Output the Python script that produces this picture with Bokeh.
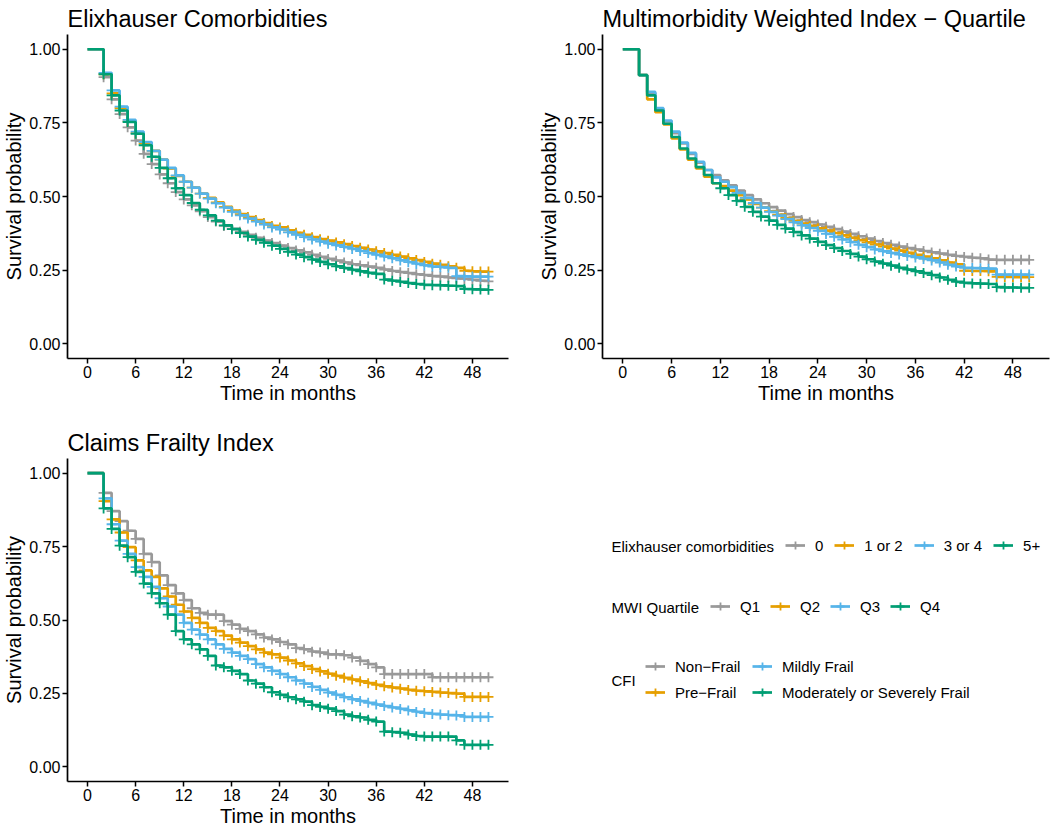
from bokeh.plotting import figure
from bokeh.layouts import column, row
from bokeh.models import Range1d, FixedTicker, NumeralTickFormatter, Legend, LegendItem, Label
from bokeh.embed import file_html
from bokeh.resources import INLINE

FONT = "Liberation Sans"

months = list(range(0, 51))
x_ticks = [0, 6, 12, 18, 24, 30, 36, 42, 48]
y_ticks = [0.0, 0.25, 0.5, 0.75, 1.0]
colors = ["#999999", "#E69F00", "#56B4E9", "#009E73"]

# ---------------- Elixhauser comorbidities ----------------
elix_labels = ["0", "1 or 2", "3 or 4", "5+"]
elix_0 = [1.0, 1.0, 0.905, 0.83, 0.78, 0.735, 0.69, 0.645, 0.61, 0.575,
          0.545, 0.515, 0.49, 0.47, 0.45, 0.43, 0.415, 0.40, 0.39, 0.38,
          0.37, 0.36, 0.35, 0.342, 0.333, 0.325, 0.317, 0.31, 0.302, 0.295,
          0.288, 0.282, 0.276, 0.27, 0.266, 0.262, 0.258, 0.252, 0.247, 0.243,
          0.24, 0.236, 0.233, 0.23, 0.228, 0.225, 0.222, 0.22, 0.217, 0.214,
          0.212]
elix_1_2 = [1.0, 1.0, 0.915, 0.85, 0.80, 0.755, 0.715, 0.68, 0.655, 0.625,
            0.595, 0.57, 0.55, 0.53, 0.51, 0.495, 0.48, 0.465, 0.452, 0.44,
            0.43, 0.42, 0.41, 0.40, 0.395, 0.385, 0.377, 0.37, 0.362, 0.355,
            0.35, 0.344, 0.338, 0.332, 0.326, 0.32, 0.314, 0.308, 0.302, 0.296,
            0.29, 0.284, 0.278, 0.272, 0.268, 0.263, 0.258, 0.248, 0.246, 0.245,
            0.245]
elix_3_4 = [1.0, 1.0, 0.92, 0.86, 0.805, 0.76, 0.72, 0.685, 0.655, 0.625,
            0.597, 0.572, 0.55, 0.53, 0.51, 0.493, 0.477, 0.462, 0.448, 0.436,
            0.425, 0.415, 0.405, 0.395, 0.388, 0.378, 0.37, 0.362, 0.354, 0.347,
            0.34, 0.334, 0.328, 0.322, 0.315, 0.308, 0.302, 0.296, 0.29, 0.283,
            0.277, 0.271, 0.266, 0.262, 0.26, 0.258, 0.23, 0.229, 0.228, 0.228,
            0.228]
elix_5p = [1.0, 1.0, 0.915, 0.843, 0.792, 0.753, 0.713, 0.674, 0.635, 0.597,
           0.562, 0.528, 0.505, 0.478, 0.455, 0.436, 0.418, 0.402, 0.389, 0.376,
           0.364, 0.353, 0.343, 0.333, 0.322, 0.312, 0.303, 0.294, 0.286, 0.278,
           0.27, 0.263, 0.257, 0.251, 0.246, 0.241, 0.237, 0.218, 0.214, 0.21,
           0.206, 0.203, 0.2, 0.199, 0.198, 0.197, 0.196, 0.186, 0.185, 0.184,
           0.183]
elix_censor_start = [2, 2, 2, 2]

# ---------------- MWI quartile ----------------
mwi_labels = ["Q1", "Q2", "Q3", "Q4"]
mwi_q1 = [1.0, 1.0, 0.912, 0.85, 0.795, 0.755, 0.715, 0.68, 0.645, 0.615,
          0.59, 0.573, 0.555, 0.538, 0.52, 0.505, 0.49, 0.477, 0.464, 0.452,
          0.44, 0.43, 0.42, 0.413, 0.405, 0.397, 0.389, 0.381, 0.373, 0.365,
          0.357, 0.349, 0.342, 0.336, 0.33, 0.325, 0.32, 0.315, 0.31, 0.306,
          0.302, 0.298, 0.295, 0.292, 0.29, 0.286, 0.285, 0.285, 0.285, 0.285,
          0.285]
mwi_q2 = [1.0, 1.0, 0.912, 0.83, 0.786, 0.745, 0.697, 0.66, 0.625, 0.595,
          0.567, 0.545, 0.535, 0.52, 0.505, 0.49, 0.475, 0.462, 0.45, 0.438,
          0.427, 0.417, 0.408, 0.4, 0.392, 0.384, 0.376, 0.368, 0.36, 0.352,
          0.344, 0.337, 0.33, 0.323, 0.316, 0.309, 0.302, 0.296, 0.29, 0.283,
          0.276, 0.27, 0.248, 0.247, 0.247, 0.246, 0.227, 0.227, 0.226, 0.226,
          0.226]
mwi_q3 = [1.0, 1.0, 0.912, 0.855, 0.8, 0.758, 0.72, 0.683, 0.648, 0.618,
          0.59, 0.565, 0.55, 0.532, 0.512, 0.495, 0.478, 0.462, 0.448, 0.435,
          0.423, 0.412, 0.402, 0.393, 0.383, 0.373, 0.363, 0.354, 0.345, 0.336,
          0.328, 0.32, 0.314, 0.308, 0.303, 0.298, 0.293, 0.288, 0.283, 0.276,
          0.268, 0.262, 0.258, 0.257, 0.256, 0.255, 0.235, 0.235, 0.235, 0.235,
          0.235]
mwi_q4 = [1.0, 1.0, 0.912, 0.843, 0.792, 0.747, 0.702, 0.663, 0.629, 0.6,
          0.573, 0.545, 0.528, 0.505, 0.485, 0.465, 0.448, 0.432, 0.418, 0.404,
          0.391, 0.379, 0.368, 0.357, 0.346, 0.335, 0.325, 0.315, 0.305, 0.296,
          0.287, 0.279, 0.272, 0.265, 0.258, 0.252, 0.246, 0.24, 0.233, 0.225,
          0.217, 0.21, 0.207, 0.205, 0.204, 0.203, 0.192, 0.191, 0.191, 0.19,
          0.19]
mwi_censor_start = [14, 15, 14, 12]

# ---------------- Claims Frailty Index ----------------
cfi_labels = ["Non\u2212Frail", "Pre\u2212Frail", "Mildly Frail", "Moderately or Severely Frail"]
cfi_non = [1.0, 1.0, 0.933, 0.871, 0.837, 0.804, 0.776, 0.725, 0.697, 0.652,
           0.619, 0.591, 0.568, 0.54, 0.524, 0.518, 0.518, 0.496, 0.484, 0.47,
           0.462, 0.451, 0.44, 0.434, 0.425, 0.417, 0.404, 0.40, 0.392, 0.389,
           0.383, 0.383, 0.38, 0.372, 0.361, 0.35, 0.339, 0.316, 0.316, 0.316,
           0.316, 0.316, 0.316, 0.305, 0.305, 0.305, 0.305, 0.305, 0.305, 0.305,
           0.305]
cfi_pre = [1.0, 1.0, 0.905, 0.843, 0.798, 0.748, 0.703, 0.669, 0.647, 0.608,
           0.58, 0.552, 0.529, 0.507, 0.49, 0.473, 0.462, 0.447, 0.434, 0.423,
           0.411, 0.40, 0.389, 0.383, 0.372, 0.362, 0.352, 0.343, 0.333, 0.325,
           0.317, 0.31, 0.303, 0.297, 0.291, 0.285, 0.279, 0.274, 0.27, 0.266,
           0.262, 0.259, 0.257, 0.255, 0.253, 0.251, 0.249, 0.238, 0.238, 0.238,
           0.238]
cfi_mild = [1.0, 1.0, 0.914, 0.826, 0.77, 0.725, 0.68, 0.647, 0.613, 0.574,
            0.546, 0.518, 0.49, 0.467, 0.45, 0.434, 0.417, 0.402, 0.389, 0.378,
            0.367, 0.35, 0.339, 0.327, 0.316, 0.305, 0.294, 0.283, 0.272, 0.262,
            0.253, 0.245, 0.237, 0.23, 0.224, 0.218, 0.212, 0.207, 0.202, 0.197,
            0.192, 0.187, 0.183, 0.18, 0.178, 0.176, 0.175, 0.17, 0.17, 0.17,
            0.17]
cfi_mod = [1.0, 1.0, 0.88, 0.81, 0.753, 0.714, 0.664, 0.624, 0.591, 0.557,
           0.518, 0.462, 0.434, 0.417, 0.40, 0.378, 0.345, 0.339, 0.327, 0.316,
           0.294, 0.283, 0.271, 0.254, 0.245, 0.237, 0.23, 0.222, 0.21, 0.204,
           0.198, 0.19, 0.178, 0.172, 0.168, 0.16, 0.154, 0.12, 0.118, 0.116,
           0.11, 0.105, 0.103, 0.103, 0.103, 0.103, 0.09, 0.075, 0.075, 0.075,
           0.075]
cfi_censor_start = [2, 2, 2, 2]

LINE_W = 2.7
MARK_SIZE = 10
MARK_W = 1.8


def make_panel(title, series, censor_start, width, height,
               b_left, b_right, b_top, b_bottom):
    p = figure(width=width, height=height,
               x_range=Range1d(-2.5, 52.5), y_range=Range1d(-0.05, 1.05),
               output_backend="svg", toolbar_location=None,
               min_border_left=b_left, min_border_right=b_right,
               min_border_top=b_top, min_border_bottom=b_bottom,
               title=title)
    p.title.text_font = FONT
    p.title.text_font_size = "23.5px"
    p.title.text_font_style = "normal"
    p.title.text_color = "black"
    p.title.align = "left"
    p.title.standoff = 6
    p.xgrid.visible = False
    p.ygrid.visible = False
    p.outline_line_color = None
    p.background_fill_color = "white"
    p.border_fill_color = "white"

    p.xaxis.ticker = FixedTicker(ticks=x_ticks)
    p.yaxis.ticker = FixedTicker(ticks=y_ticks)
    p.yaxis.formatter = NumeralTickFormatter(format="0.00")
    p.xaxis.axis_label = "Time in months"
    p.yaxis.axis_label = "Survival probability"
    for ax in (p.xaxis, p.yaxis):
        ax.axis_label_text_font = FONT
        ax.axis_label_text_font_size = "20px"
        ax.axis_label_text_font_style = "normal"
        ax.axis_label_text_color = "black"
        ax.major_label_text_font = FONT
        ax.major_label_text_font_size = "16px"
        ax.major_label_text_color = "black"
        ax.axis_line_color = "black"
        ax.axis_line_width = 1.7
        ax.major_tick_line_color = "black"
        ax.major_tick_line_width = 1.5
        ax.major_tick_out = 5
        ax.major_tick_in = 0
        ax.minor_tick_line_color = None
        ax.major_label_standoff = 2
        ax.axis_label_standoff = 1

    for vals, col, cs in zip(series, colors, censor_start):
        p.step(months, vals, mode="after", line_color=col, line_width=LINE_W)
        cx = [m for m in months if m >= cs]
        cy = [vals[m] for m in cx]
        p.scatter(cx, cy, marker="cross", size=MARK_SIZE, line_color=col, line_width=MARK_W)
    return p


p1 = make_panel("Elixhauser Comorbidities",
                [elix_0, elix_1_2, elix_3_4, elix_5p], elix_censor_start,
                530, 410, 67, 22, 33, 52)
p2 = make_panel("Multimorbidity Weighted Index \u2212 Quartile",
                [mwi_q1, mwi_q2, mwi_q3, mwi_q4], mwi_censor_start,
                520, 410, 72, 1, 33, 52)
p3 = make_panel("Claims Frailty Index",
                [cfi_non, cfi_pre, cfi_mild, cfi_mod], cfi_censor_start,
                530, 419, 67, 22, 48, 46)

# ---------------- Legend panel (coordinates in page pixels) ----------------
LW, LH = 520, 419
p4 = figure(width=LW, height=LH, x_range=Range1d(530, 1050), y_range=Range1d(783, 458),
            output_backend="svg", toolbar_location=None,
            x_axis_location=None, y_axis_location=None,
            min_border_left=0, min_border_right=0, min_border_top=48, min_border_bottom=46)
p4.grid.visible = False
p4.outline_line_color = None


def key_renderers(col):
    lr = p4.line(x=[-50, -40], y=[-50, -50], line_color=col, line_width=LINE_W)
    sr = p4.scatter(x=[-45], y=[-50], marker="cross", size=MARK_SIZE,
                    line_color=col, line_width=MARK_W)
    return [lr, sr]


def style_legend(lg, spacing):
    lg.label_text_font = FONT
    lg.label_text_font_size = "15px"
    lg.label_text_color = "black"
    lg.glyph_width = 20
    lg.glyph_height = 20
    lg.label_height = 20
    lg.label_width = 0
    lg.label_standoff = 10
    lg.spacing = spacing
    lg.padding = 0
    lg.margin = 0
    lg.border_line_color = None
    lg.background_fill_alpha = 0


def add_title(text, y):
    p4.add_layout(Label(x=611, y=y, text=text, text_font=FONT, text_font_size="15px",
                        text_color="black", text_baseline="middle", text_align="left"))


# legend location = bottom-left corner, relative to frame bottom-left (page x 530, y 783)
def loc(page_x, page_bottom):
    return (page_x - 530, 783 - page_bottom)


elix_items = [LegendItem(label=lab, renderers=key_renderers(c))
              for lab, c in zip(elix_labels, colors)]
lg_e = Legend(items=elix_items, location=loc(785, 557), orientation="horizontal")
style_legend(lg_e, 11)
p4.add_layout(lg_e)
add_title("Elixhauser comorbidities", 547)

mwi_items = [LegendItem(label=lab, renderers=key_renderers(c))
             for lab, c in zip(mwi_labels, colors)]
lg_m = Legend(items=mwi_items, location=loc(710, 618), orientation="horizontal")
style_legend(lg_m, 10)
p4.add_layout(lg_m)
add_title("MWI Quartile", 608)

cfi_items = [LegendItem(label=lab, renderers=key_renderers(c))
             for lab, c in zip(cfi_labels, colors)]
lg_c1 = Legend(items=cfi_items[:2], location=loc(645, 704), orientation="vertical")
style_legend(lg_c1, 6)
p4.add_layout(lg_c1)
lg_c2 = Legend(items=cfi_items[2:], location=loc(752, 704), orientation="vertical")
style_legend(lg_c2, 6)
p4.add_layout(lg_c2)
add_title("CFI", 681)

layout = column(row(p1, p2), row(p3, p4))

open("out.html", "w").write(file_html(layout, INLINE))
